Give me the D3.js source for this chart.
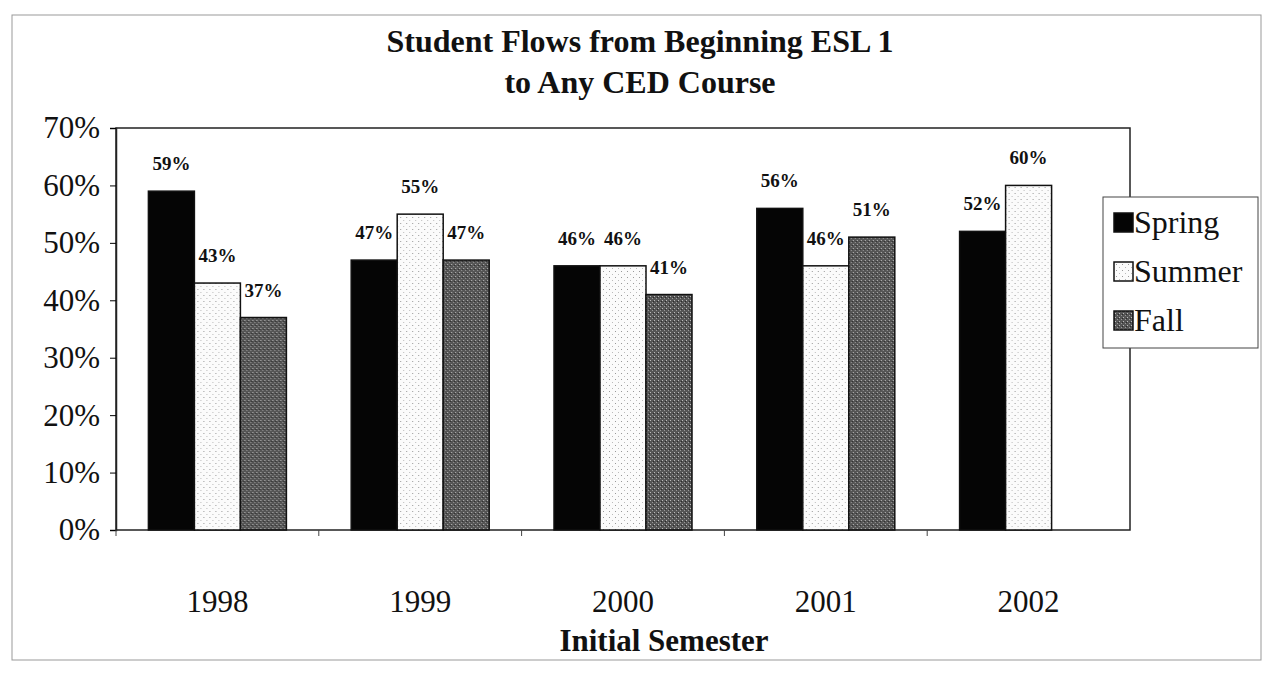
<!DOCTYPE html>
<html><head><meta charset="utf-8">
<script src="https://cdn.jsdelivr.net/npm/d3@7/dist/d3.min.js"></script>
<style>body{margin:0;background:#fff}svg{display:block;font-family:"Liberation Serif","Times New Roman",serif}</style>
</head><body>
<svg id="c" width="1269" height="673"></svg>
<script>
const years = ["1998","1999","2000","2001","2002"];
const seriesNames = ["Spring","Summer","Fall"];
const spring = [59,47,46,56,52];
const summer = [43,55,46,46,60];
const fall = [37,47,41,51,null];
const yTicks = [0,10,20,30,40,50,60,70];

const svg = d3.select("#c");
const defs = svg.append("defs");
const pSum = defs.append("pattern").attr("id","pSum").attr("width",6).attr("height",6).attr("patternUnits","userSpaceOnUse");
pSum.append("rect").attr("width",6).attr("height",6).attr("fill","#fbfbfb");
pSum.append("rect").attr("x",1).attr("y",1).attr("width",1).attr("height",1).attr("fill","#999");
pSum.append("rect").attr("x",4).attr("y",4).attr("width",1).attr("height",1).attr("fill","#bbb");
const pFall = defs.append("pattern").attr("id","pFall").attr("width",4).attr("height",4).attr("patternUnits","userSpaceOnUse");
pFall.append("rect").attr("width",4).attr("height",4).attr("fill","#555");
pFall.append("rect").attr("x",0).attr("y",0).attr("width",1).attr("height",1).attr("fill","#bbb");
pFall.append("rect").attr("x",2).attr("y",2).attr("width",1).attr("height",1).attr("fill","#999");
pFall.append("rect").attr("x",3).attr("y",1).attr("width",1).attr("height",1).attr("fill","#2a2a2a");
const fills = ["#050505","url(#pSum)","url(#pFall)"];

svg.append("rect").attr("x",12).attr("y",15).attr("width",1249).attr("height",645)
  .attr("fill","none").attr("stroke","#999").attr("stroke-width",1);

const L=116, R=1130, T=128, B=530;
const x = d3.scaleBand().domain(years).range([L,R]);
const GW = 138;
const x1 = d3.scaleBand().domain(seriesNames).range([0,GW]);
const y = d3.scaleLinear().domain([0,70]).range([B,T]);

svg.append("rect").attr("x",L).attr("y",T).attr("width",R-L).attr("height",B-T)
  .attr("fill","none").attr("stroke","#222").attr("stroke-width",1.5);

const data = [spring,summer,fall];
years.forEach((yr,i)=>{
  const g = svg.append("g").attr("transform",`translate(${x(yr)+x.bandwidth()/2-GW/2},0)`);
  seriesNames.forEach((s,j)=>{
    const v = data[j][i];
    if(v==null) return;
    g.append("rect").attr("x",x1(s)).attr("y",y(v)).attr("width",x1.bandwidth()).attr("height",B-y(v))
      .attr("fill",fills[j]).attr("stroke","#111").attr("stroke-width",1.5);
  });
  seriesNames.forEach((s,j)=>{
    const v = data[j][i];
    if(v==null) return;
    g.append("text").attr("x",x1(s)+x1.bandwidth()/2).attr("y",y(v)-21)
      .attr("text-anchor","middle").attr("font-size",19).attr("font-weight","bold").attr("fill","#111").text(v+"%");
  });
});

const yAxis = d3.axisLeft(y).tickValues(yTicks).tickFormat(d=>d+"%").tickSize(6).tickPadding(10);
const ya = svg.append("g").attr("transform",`translate(${L},0)`).call(yAxis);
ya.select(".domain").attr("stroke","#222").attr("stroke-width",1.5);
ya.selectAll("text").attr("font-size",31).attr("font-family","Liberation Serif").attr("fill","#111");
const xAxis = d3.axisBottom(x).tickSize(0).tickPadding(60);
const xa = svg.append("g").attr("transform",`translate(0,${B})`).call(xAxis);
xa.select(".domain").remove();
xa.selectAll("text").attr("font-size",31).attr("font-family","Liberation Serif").attr("fill","#111");
years.forEach(yr=>{
  svg.append("line").attr("x1",x(yr)).attr("x2",x(yr)).attr("y1",B).attr("y2",B+6).attr("stroke","#444");
});

svg.append("text").attr("x",640).attr("y",52).attr("text-anchor","middle").attr("font-size",32).attr("font-weight","bold").attr("fill","#111").text("Student Flows from Beginning ESL 1");
svg.append("text").attr("x",640).attr("y",93).attr("text-anchor","middle").attr("font-size",32).attr("font-weight","bold").attr("fill","#111").text("to Any CED Course");
svg.append("text").attr("x",664).attr("y",651).attr("text-anchor","middle").attr("font-size",31).attr("font-weight","bold").attr("fill","#111").text("Initial Semester");

const lg = svg.append("g").attr("transform","translate(1103,197)");
lg.append("rect").attr("width",155).attr("height",151).attr("fill","#fff").attr("stroke","#444");
seriesNames.forEach((s,j)=>{
  const yy = 26 + j*49;
  lg.append("rect").attr("x",11).attr("y",yy-10).attr("width",19).attr("height",19).attr("fill",fills[j]).attr("stroke","#111").attr("stroke-width",1.5);
  lg.append("text").attr("x",31).attr("y",yy+10).attr("font-size",32).attr("fill","#111").text(s);
});
</script>
</body></html>
